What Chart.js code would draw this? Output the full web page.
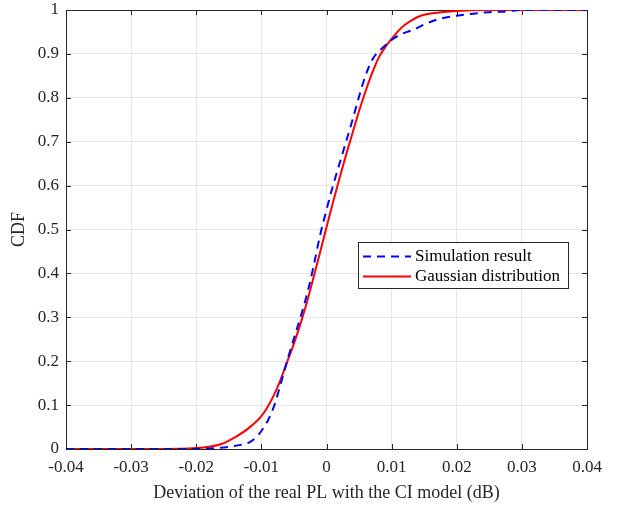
<!DOCTYPE html>
<html>
<head>
<meta charset="utf-8">
<script src="https://cdn.jsdelivr.net/npm/chart.js@4"></script>
<style>
    html, body { margin: 0; padding: 0; background: #fff; }
    #chart { display: block; }
</style>
</head>
<body>
<canvas id="chart" width="619" height="506"></canvas>
<script>
// Значения
const simX = [-0.04, -0.02, -0.017, -0.015, -0.013, -0.012, -0.011, -0.010, -0.009, -0.008, -0.007, -0.006, -0.005, -0.004, -0.003, -0.002, -0.001, 0, 0.001, 0.002, 0.003, 0.004, 0.005, 0.006, 0.007, 0.0077, 0.0087, 0.010, 0.0115, 0.0133, 0.0153, 0.0174, 0.020, 0.022, 0.025, 0.0277, 0.030, 0.04];
const simY = [0, 0, 0.002, 0.005, 0.01, 0.014, 0.024, 0.041, 0.065, 0.1, 0.15, 0.203, 0.252, 0.3, 0.352, 0.415, 0.486, 0.545, 0.6, 0.65, 0.7, 0.75, 0.803, 0.851, 0.886, 0.901, 0.915, 0.932, 0.945, 0.955, 0.969, 0.98, 0.987, 0.991, 0.995, 0.997, 1, 1];

const gaussX = [-0.04, -0.025, -0.02, -0.018, -0.016, -0.015, -0.014, -0.012, -0.010, -0.009, -0.008, -0.007, -0.006, -0.005, -0.004, -0.003, -0.002, -0.001, 0, 0.001, 0.002, 0.003, 0.004, 0.005, 0.006, 0.007, 0.008, 0.009, 0.010, 0.011, 0.012, 0.013, 0.014, 0.015, 0.017, 0.020, 0.024, 0.04];
const gaussY = [0, 0, 0.002, 0.005, 0.012, 0.019, 0.027, 0.047, 0.075, 0.097, 0.125, 0.16, 0.2, 0.24, 0.285, 0.335, 0.39, 0.447, 0.505, 0.562, 0.617, 0.67, 0.72, 0.77, 0.815, 0.856, 0.891, 0.915, 0.934, 0.952, 0.966, 0.976, 0.984, 0.989, 0.994, 0.998, 1, 1];

const xTicks = [-0.04, -0.03, -0.02, -0.01, 0, 0.01, 0.02, 0.03, 0.04];
const yTicks = [0, 0.1, 0.2, 0.3, 0.4, 0.5, 0.6, 0.7, 0.8, 0.9, 1];

const seriesNames = ['Simulation result', 'Gaussian distribution'];
const xTitle = 'Deviation of the real PL with the CI model (dB)';
const yTitle = 'CDF';

const FONT = "'Liberation Serif', 'DejaVu Serif', serif";
const AXIS_COLOR = '#262626';

function toPoints(xs, ys) {
    return xs.map((x, i) => ({ x: x, y: ys[i] }));
}

function tickLabel(v) {
    return Math.abs(v) < 1e-9 ? '0' : String(+v.toFixed(2));
}

// Рамка и внутренние засечки в стиле MATLAB
const boxPlugin = {
    id: 'boxPlugin',
    beforeDatasetsDraw(chart) {
        const ctx = chart.ctx;
        const a = chart.chartArea;
        const xs = chart.scales.x;
        const ys = chart.scales.y;
        const len = 5;
        ctx.save();
        ctx.strokeStyle = AXIS_COLOR;
        ctx.lineWidth = 1;
        ctx.strokeRect(Math.round(a.left) + 0.5, Math.round(a.top) + 0.5,
            Math.round(a.right) - Math.round(a.left), Math.round(a.bottom) - Math.round(a.top));
        ctx.beginPath();
        xTicks.forEach(v => {
            const px = Math.round(xs.getPixelForValue(v)) + 0.5;
            ctx.moveTo(px, a.bottom); ctx.lineTo(px, a.bottom - len);
            ctx.moveTo(px, a.top); ctx.lineTo(px, a.top + len);
        });
        yTicks.forEach(v => {
            const py = Math.round(ys.getPixelForValue(v)) + 0.5;
            ctx.moveTo(a.left, py); ctx.lineTo(a.left + len, py);
            ctx.moveTo(a.right, py); ctx.lineTo(a.right - len, py);
        });
        ctx.stroke();
        ctx.restore();
    },
    afterDraw(chart) {
        // Легенда внутри области графика
        const ctx = chart.ctx;
        const bx = 358, by = 242, bw = 210, bh = 46;
        ctx.save();
        ctx.fillStyle = '#fff';
        ctx.fillRect(bx, by, bw, bh);
        ctx.strokeStyle = AXIS_COLOR;
        ctx.lineWidth = 1;
        ctx.strokeRect(bx + 0.5, by + 0.5, bw, bh);
        chart.data.datasets.forEach((ds, i) => {
            const ry = by + 14.5 + i * 20;
            ctx.beginPath();
            ctx.strokeStyle = ds.borderColor;
            ctx.lineWidth = 2;
            ctx.setLineDash(ds.borderDash || []);
            ctx.moveTo(bx + 5, ry);
            ctx.lineTo(bx + 53, ry);
            ctx.stroke();
            ctx.setLineDash([]);
            ctx.fillStyle = '#000';
            ctx.font = '17px ' + FONT;
            ctx.textBaseline = 'middle';
            ctx.fillText(ds.label, bx + 57, ry);
        });
        ctx.restore();
    }
};

new Chart(
    document.getElementById('chart'),
    {
        type: 'line',
        data: {
            datasets: [
                {
                    label: seriesNames[0],
                    data: toPoints(simX, simY),
                    borderColor: '#0000ff',
                    borderWidth: 2,
                    borderDash: [8, 6],
                    pointRadius: 0,
                    cubicInterpolationMode: 'monotone',
                    fill: false
                },
                {
                    label: seriesNames[1],
                    data: toPoints(gaussX, gaussY),
                    borderColor: '#ff0000',
                    borderWidth: 2,
                    pointRadius: 0,
                    cubicInterpolationMode: 'monotone',
                    fill: false
                }
            ]
        },
        options: {
            responsive: false,
            animation: false,
            devicePixelRatio: 1,
            layout: {
                padding: { top: 10, right: 32, bottom: 0, left: 0 }
            },
            plugins: {
                legend: { display: false },
                tooltip: { enabled: false }
            },
            scales: {
                x: {
                    type: 'linear',
                    min: -0.04,
                    max: 0.04,
                    afterBuildTicks: (scale) => { scale.ticks = xTicks.map(v => ({ value: v })); },
                    afterFit: (scale) => { scale.height = 57; },
                    grid: { color: '#e6e6e6', lineWidth: 1, drawTicks: false },
                    border: { display: false },
                    ticks: {
                        color: '#262626',
                        padding: 8,
                        maxRotation: 0,
                        font: { family: FONT, size: 17 },
                        callback: (v) => tickLabel(v)
                    },
                    title: {
                        display: true,
                        text: xTitle,
                        color: '#262626',
                        font: { family: FONT, size: 18 },
                        padding: { top: 0, bottom: 2 }
                    }
                },
                y: {
                    type: 'linear',
                    min: 0,
                    max: 1,
                    afterBuildTicks: (scale) => { scale.ticks = yTicks.map(v => ({ value: v })); },
                    afterFit: (scale) => {
                        scale.width = 66;
                        scale.paddingTop = 0;
                        scale.paddingBottom = 0;
                    },
                    grid: { color: '#e6e6e6', lineWidth: 1, drawTicks: false },
                    border: { display: false },
                    ticks: {
                        color: '#262626',
                        padding: 7,
                        font: { family: FONT, size: 17 },
                        callback: (v) => tickLabel(v)
                    },
                    title: {
                        display: true,
                        text: yTitle,
                        color: '#262626',
                        font: { family: FONT, size: 18 },
                        padding: { top: 8, bottom: 0 }
                    }
                }
            }
        },
        plugins: [boxPlugin]
    }
);
</script>
</body>
</html>
